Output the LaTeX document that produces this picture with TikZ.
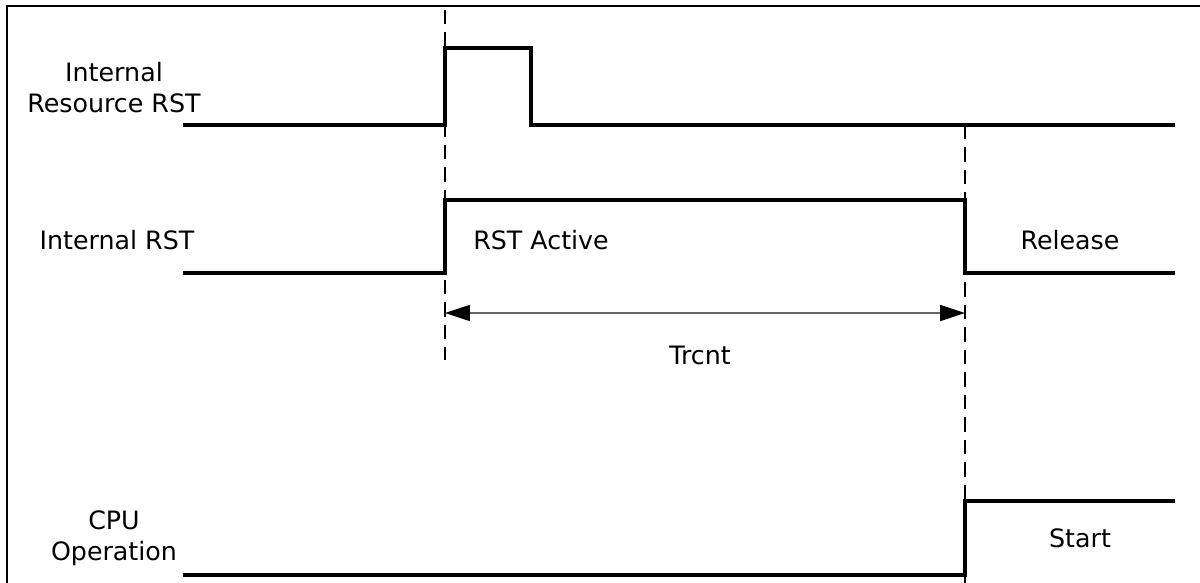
\documentclass[tikz,border=0pt]{standalone}
\usepackage{fontspec}
\setmainfont{DejaVu Sans}
\usetikzlibrary{arrows.meta,positioning}
\tikzset{
  signal/.style={line width=2.4pt,line join=miter},
  guide/.style={line width=1.4pt,dash pattern=on 10pt off 6pt},
  lbl/.style={font=\fontsize{18}{22}\selectfont,align=center,inner sep=0pt},
  span/.style={gray!80!black,line width=0.9pt,
    {Triangle[length=0.62cm,width=0.4cm,black]}-{Triangle[length=0.62cm,width=0.4cm,black]}}
}

\begin{document}
\begin{tikzpicture}[x=0.025cm,y=-0.025cm]
    \clip (0,0) rectangle (1200,583);
    \draw[line width=1.8pt] (7,600) -- (7,6) -- (1210,6);
    % labels
    \node[lbl] (resrst) at (114,88) {Internal\\Resource RST};
    \node[lbl] (intrst) at (117,240) {Internal RST};
    \node[lbl] (cpuop) at (114,538) {CPU\\Operation};
    \node[lbl] (active) at (541,240) {RST Active};
    \node[lbl] (release) at (1070,240) {Release};
    \node[lbl] (trcnt) at (700,355) {Trcnt};
    \node[lbl] (start) at (1080,538) {Start};
    % timing guides
    \coordinate (g1top) at (445,10);
    \coordinate (g1bot) at (445,360);
    \coordinate (g2top) at (965,125);
    \coordinate (g2bot) at (965,590);
    \draw[guide] (g1top) -- (g1bot);
    \draw[guide] (g2top) -- (g2bot);
    % internal resource reset pulse
    \coordinate (r0) at (183,125);
    \coordinate (r1) at (445,125);
    \coordinate (r2) at (445,48);
    \coordinate (r3) at (531,48);
    \coordinate (r4) at (531,125);
    \coordinate (r5) at (1175,125);
    \draw[signal] (r0) -- (r1) -- (r2) -- (r3) -- (r4) -- (r5);
    % internal reset
    \coordinate (i0) at (183,273);
    \coordinate (i1) at (445,273);
    \coordinate (i2) at (445,200);
    \coordinate (i3) at (965,200);
    \coordinate (i4) at (965,273);
    \coordinate (i5) at (1175,273);
    \draw[signal] (i0) -- (i1) -- (i2) -- (i3) -- (i4) -- (i5);
    % cpu operation
    \coordinate (c0) at (183,575);
    \coordinate (c1) at (965,575);
    \coordinate (c2) at (965,501);
    \coordinate (c3) at (1175,501);
    \draw[signal] (c0) -- (c1) -- (c2) -- (c3);
    % reset count span
    \coordinate (tl) at (445,313);
    \coordinate (tr) at (965,313);
    \draw[span] (tl) -- (tr);
\end{tikzpicture}
\end{document}
